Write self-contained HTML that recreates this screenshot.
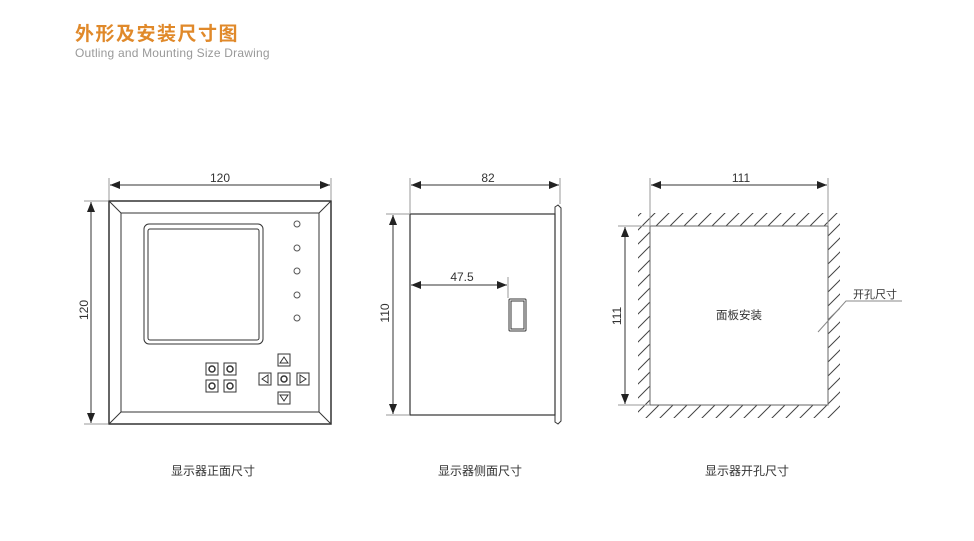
<!DOCTYPE html>
<html><head><meta charset="utf-8"><style>
body{margin:0;background:#fff;width:974px;height:541px;overflow:hidden;position:relative;font-family:"Liberation Sans","Noto Sans CJK SC",sans-serif}
.t{position:absolute;left:75px;top:25px;font-size:19px;line-height:19px;font-weight:bold;color:#e0892a;letter-spacing:1.5px}
.s{position:absolute;left:75px;top:47px;font-size:12px;line-height:12px;color:#999;letter-spacing:0.2px}
.c{position:absolute;top:462px;font-size:12px;color:#333;width:120px;text-align:center}
</style></head><body>
<div class="t">外形及安装尺寸图</div>
<div class="s">Outling and Mounting Size Drawing</div>
<div class="c" style="left:153px">显示器正面尺寸</div>
<div class="c" style="left:420px">显示器侧面尺寸</div>
<div class="c" style="left:687px">显示器开孔尺寸</div>
<svg width="974" height="541" style="position:absolute;left:0;top:0" font-family="Liberation Sans, Noto Sans CJK SC, sans-serif">
<defs>
<marker id="a" markerWidth="10" markerHeight="8" refX="10" refY="4" orient="auto-start-reverse" markerUnits="userSpaceOnUse"><path d="M0,0L10,4L0,8Z" fill="#222"/></marker>
<pattern id="h" patternUnits="userSpaceOnUse" width="14" height="14"><path d="M-2,16L16,-2M-16,16L2,-2M12,16L30,-2" stroke="#444" stroke-width="1"/></pattern>
</defs>
<g stroke="#333" fill="none" stroke-width="1">
<line x1="109" y1="178" x2="109" y2="200" stroke="#999"/><line x1="331" y1="178" x2="331" y2="200" stroke="#999"/>
<line x1="110" y1="185" x2="330" y2="185" marker-start="url(#a)" marker-end="url(#a)"/>
<line x1="84" y1="201" x2="108" y2="201" stroke="#999"/><line x1="84" y1="424" x2="108" y2="424" stroke="#999"/>
<line x1="91" y1="202" x2="91" y2="423" marker-start="url(#a)" marker-end="url(#a)"/>
<rect x="109" y="201" width="222" height="223" stroke-width="1.5"/>
<rect x="121" y="213" width="198" height="199"/>
<line x1="109" y1="201" x2="121" y2="213"/><line x1="331" y1="201" x2="319" y2="213"/><line x1="109" y1="424" x2="121" y2="412"/><line x1="331" y1="424" x2="319" y2="412"/>
<rect x="144" y="224" width="119" height="120" rx="5"/>
<rect x="148" y="229" width="111" height="111" rx="2"/>
<g stroke="#555"><circle cx="297" cy="224" r="3"/><circle cx="297" cy="248" r="3"/><circle cx="297" cy="271" r="3"/><circle cx="297" cy="295" r="3"/><circle cx="297" cy="318" r="3"/></g>
<rect x="206" y="363" width="12" height="12"/><rect x="224" y="363" width="12" height="12"/><rect x="206" y="380" width="12" height="12"/><rect x="224" y="380" width="12" height="12"/>
<g stroke-width="1.5"><circle cx="212" cy="369" r="3"/><circle cx="230" cy="369" r="3"/><circle cx="212" cy="386" r="3"/><circle cx="230" cy="386" r="3"/><circle cx="284" cy="379" r="3"/></g>
<rect x="278" y="354" width="12" height="12"/><rect x="259" y="373" width="12" height="12"/><rect x="278" y="373" width="12" height="12"/><rect x="297" y="373" width="12" height="12"/><rect x="278" y="392" width="12" height="12"/>
<path d="M284,357L288,363L280,363Z M262,379L268,375L268,383Z M306,379L300,375L300,383Z M284,401L288,395L280,395Z"/>
<line x1="410" y1="178" x2="410" y2="213" stroke="#999"/><line x1="560" y1="178" x2="560" y2="204" stroke="#999"/>
<line x1="411" y1="185" x2="559" y2="185" marker-start="url(#a)" marker-end="url(#a)"/>
<line x1="386" y1="214" x2="409" y2="214" stroke="#999"/><line x1="386" y1="415" x2="409" y2="415" stroke="#999"/>
<line x1="393" y1="215" x2="393" y2="414" marker-start="url(#a)" marker-end="url(#a)"/>
<rect x="410" y="214" width="145" height="201" stroke-width="1.2"/>
<path d="M555,207L558,205L561,208L561,421L558,424L555,422Z"/>
<line x1="411" y1="285" x2="507" y2="285" marker-start="url(#a)" marker-end="url(#a)"/>
<line x1="508" y1="277" x2="508" y2="298" stroke="#999"/>
<rect x="509" y="299" width="17" height="32" rx="1"/><rect x="511" y="301" width="13" height="28"/>
<rect x="638" y="213" width="202" height="13" fill="url(#h)" stroke="none"/>
<rect x="638" y="405" width="202" height="13" fill="url(#h)" stroke="none"/>
<rect x="638" y="226" width="12" height="179" fill="url(#h)" stroke="none"/>
<rect x="828" y="226" width="12" height="179" fill="url(#h)" stroke="none"/>
<rect x="650" y="226" width="178" height="179" fill="#fff" stroke="#666"/>
<line x1="650" y1="178" x2="650" y2="226" stroke="#999"/><line x1="828" y1="178" x2="828" y2="226" stroke="#999"/>
<line x1="651" y1="185" x2="827" y2="185" marker-start="url(#a)" marker-end="url(#a)"/>
<line x1="618" y1="226" x2="650" y2="226" stroke="#999"/><line x1="618" y1="405" x2="650" y2="405" stroke="#999"/>
<line x1="625" y1="227" x2="625" y2="404" marker-start="url(#a)" marker-end="url(#a)"/>
<path d="M818,332L846,301L902,301" stroke="#888"/>
</g>
<g fill="#333" font-size="12" text-anchor="middle">
<text x="220" y="182">120</text>
<text x="488" y="182">82</text>
<text x="462" y="281">47.5</text>
<text x="741" y="182">111</text>
<text transform="translate(88,310) rotate(-90)">120</text>
<text transform="translate(389,313) rotate(-90)">110</text>
<text transform="translate(621,316) rotate(-90)">111</text>
<text x="739" y="319" font-size="11.5">面板安装</text>
<text x="875" y="298" font-size="11">开孔尺寸</text>
</g>
</svg>
</body></html>
